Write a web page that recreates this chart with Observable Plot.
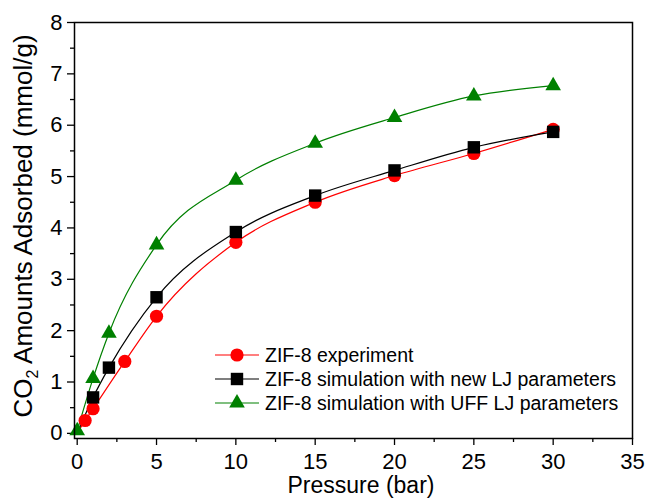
<!DOCTYPE html>
<html><head><meta charset="utf-8">
<script src="https://cdn.jsdelivr.net/npm/d3@7"></script>
<script src="https://cdn.jsdelivr.net/npm/@observablehq/plot@0.6"></script>
<style>body{margin:0;background:#fff}</style>
</head><body><div id="chart"></div>
<script>
const seriesNames = ["ZIF-8 experiment", "ZIF-8 simulation with new LJ parameters", "ZIF-8 simulation with UFF LJ parameters"];
const colors = ["#ff0000", "#000000", "#008000"];
const symbols = ["circle", "square", "triangle"];

const expP = [0.5, 1, 3, 5, 10, 15, 20, 25, 30];
const expQ = [0.25, 0.48, 1.4, 2.28, 3.72, 4.5, 5.02, 5.45, 5.92];
const newP = [1, 2, 5, 10, 15, 20, 25, 30];
const newQ = [0.7, 1.28, 2.65, 3.92, 4.63, 5.12, 5.57, 5.87];
const uffP = [0, 1, 2, 5, 10, 15, 20, 25, 30];
const uffQ = [0.05, 1.07, 1.95, 3.67, 4.93, 5.65, 6.15, 6.57, 6.77];
// fitted curves start at origin
const originP = 0, originQ = 0;

const xTicks = [0, 5, 10, 15, 20, 25, 30, 35];
const yTicks = [0, 1, 2, 3, 4, 5, 6, 7, 8];
const xMinor = [2.5, 7.5, 12.5, 17.5, 22.5, 27.5, 32.5];
const yMinor = [0.5, 1.5, 2.5, 3.5, 4.5, 5.5, 6.5, 7.5];

function pts(P, Q, s) { return P.map((p, i) => ({p, q: Q[i], s})); }
const dots = [...pts(expP, expQ, 0), ...pts(newP, newQ, 1), ...pts(uffP, uffQ, 2)];
const lines = [
  ...pts([originP, ...expP], [originQ, ...expQ], 0),
  ...pts([originP, ...newP], [originQ, ...newQ], 1),
  ...pts(uffP, uffQ, 2)
];
const radii = [6.6, 7, 5.8];

const font = "'Liberation Sans', Arial, sans-serif";
const chart = Plot.plot({
  width: 647, height: 500,
  marginLeft: 74, marginRight: 15, marginTop: 22, marginBottom: 62,
  style: {fontFamily: font, fontSize: "22px", color: "#000", background: "#fff"},
  x: {domain: [-0.17, 35]},
  y: {domain: [-0.1, 8]},
  marks: [
    Plot.axisX({ticks: xTicks, tickSize: 7, tickPadding: 8, tickFormat: d => d, label: null, stroke: "#000", strokeWidth: 1.3}),
    Plot.axisX({ticks: xMinor, tickSize: 4, text: null, label: null, stroke: "#000", strokeWidth: 1.3}),
    Plot.axisY({ticks: yTicks, tickSize: 7, tickPadding: 5, tickFormat: d => d, label: null, stroke: "#000", strokeWidth: 1.3}),
    Plot.axisY({ticks: yMinor, tickSize: 4, text: null, label: null, stroke: "#000", strokeWidth: 1.3}),
    ...[0, 1, 2].map(s => Plot.line(lines.filter(d => d.s === s), {x: "p", y: "q", stroke: colors[s], strokeWidth: 1.2, curve: "monotone-x"})),
    ...[0, 1, 2].map(s => Plot.dot(dots.filter(d => d.s === s), {x: "p", y: "q", fill: colors[s], stroke: "none", symbol: () => symbols[s], r: radii[s]})),
    Plot.frame({stroke: "#000", strokeWidth: 1.5})
  ]
});
document.getElementById("chart").appendChild(chart);

const svg = d3.select(chart);
// axis titles
svg.append("text").attr("x", 361).attr("y", 493).attr("text-anchor", "middle")
  .attr("font-family", font).attr("font-size", 23).attr("fill", "#000").text("Pressure (bar)");
const yt = svg.append("text").attr("transform", "translate(32,226) rotate(-90)").attr("text-anchor", "middle")
  .attr("font-family", font).attr("font-size", 26).attr("fill", "#000");
yt.append("tspan").text("CO");
yt.append("tspan").attr("font-size", 16).attr("dy", 6).text("2");
yt.append("tspan").attr("dy", -6).text(" Amounts Adsorbed (mmol/g)");

// legend
const lg = svg.append("g");
seriesNames.forEach((name, i) => {
  const y = 355 + i * 24;
  lg.append("line").attr("x1", 215).attr("x2", 259).attr("y1", y).attr("y2", y).attr("stroke", colors[i]).attr("stroke-width", 1.2);
  const sym = [d3.symbolCircle, d3.symbolSquare, d3.symbolTriangle][i];
  const r = radii[i];
  lg.append("path").attr("transform", `translate(237,${y})`).attr("d", d3.symbol(sym, Math.PI * r * r)()).attr("fill", colors[i]);
  lg.append("text").attr("x", 265).attr("y", y + 7).attr("text-anchor", "start").attr("font-family", font).attr("font-size", 19.5).attr("fill", "#000").text(name);
});
</script></body></html>
